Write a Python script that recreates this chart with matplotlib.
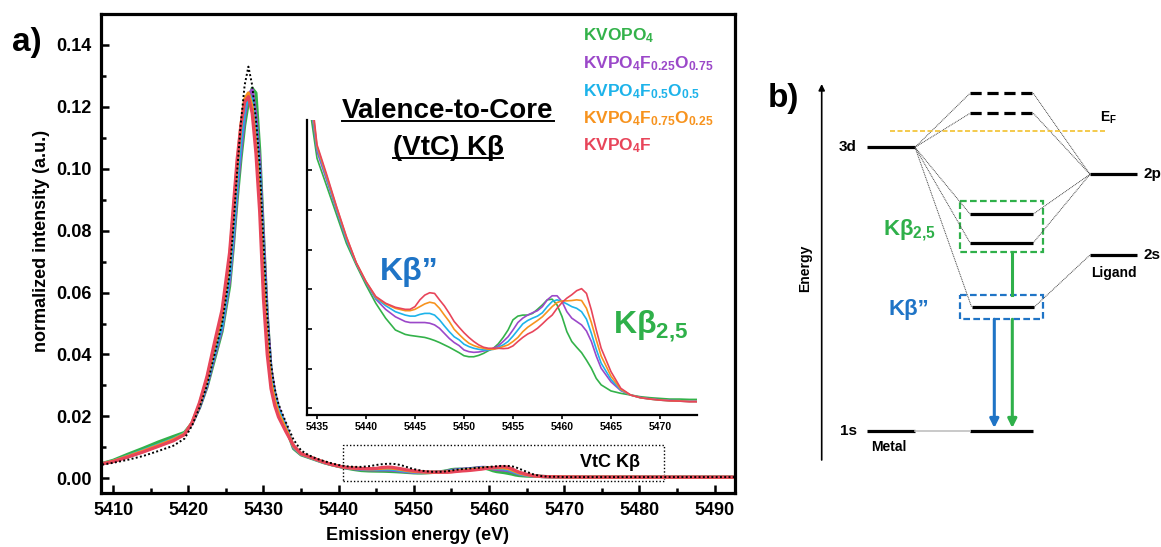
import matplotlib
matplotlib.use("Agg")
import matplotlib.pyplot as plt
import matplotlib.transforms as mtransforms
from matplotlib.lines import Line2D
from matplotlib.patches import Rectangle
from matplotlib.ticker import MultipleLocator

plt.rcParams['font.family'] = ['Liberation Sans', 'DejaVu Sans']
plt.rcParams['font.weight'] = 'bold'
plt.rcParams['mathtext.fontset'] = 'custom'
plt.rcParams['mathtext.rm'] = 'Liberation Sans:bold'
plt.rcParams['mathtext.it'] = 'Liberation Sans:bold'
plt.rcParams['mathtext.bf'] = 'Liberation Sans:bold'
plt.rcParams['mathtext.default'] = 'rm'

# ---------------- data ----------------
energy = [5408, 5410, 5412, 5414, 5416, 5418, 5419.5,
          5420.5, 5421.5, 5422.5, 5423.5, 5424.5, 5425.5, 5426, 5426.5, 5427, 5427.5,
          5428, 5428.5, 5429, 5429.5, 5430, 5430.5, 5431, 5431.5, 5432, 5433, 5434,
          5435, 5436, 5437, 5438, 5439, 5440, 5441, 5442, 5443,
          5444, 5444.5, 5445, 5445.5, 5446, 5446.5, 5447, 5447.5, 5448, 5448.5,
          5449, 5449.5, 5450, 5450.5, 5451, 5451.5, 5452, 5452.5, 5453, 5453.5,
          5454, 5454.5, 5455, 5455.5, 5456, 5456.5, 5457, 5457.5, 5458, 5458.5,
          5459, 5459.5, 5460, 5460.5, 5461, 5461.5, 5462, 5462.5, 5463, 5463.5, 5464,
          5465, 5466, 5467, 5468, 5469, 5470, 5471, 5472, 5473, 5474,
          5478, 5483, 5488, 5493]

kvopo4 = [0.0044, 0.0058, 0.0078, 0.0097, 0.0117, 0.0135, 0.0148,
          0.0178, 0.0228, 0.0295, 0.0385, 0.0475, 0.0620, 0.0750, 0.0900, 0.1030, 0.1140,
          0.1215, 0.1260, 0.1245, 0.1060, 0.0790, 0.0530, 0.0350, 0.0275, 0.0225, 0.0163, 0.0096,
          0.00758, 0.00675, 0.00591, 0.00507, 0.00443, 0.00384, 0.00330, 0.00286, 0.00251,
          0.00238, 0.00235, 0.00233, 0.00231, 0.00229, 0.00225, 0.00220, 0.00214, 0.00207, 0.00200,
          0.00192, 0.00184, 0.00175, 0.00172, 0.00172, 0.00176, 0.00182, 0.00190, 0.00197, 0.00210,
          0.00229, 0.00251, 0.00281, 0.00292, 0.00295, 0.00295, 0.00300, 0.00312, 0.00325, 0.00340,
          0.00342, 0.00325, 0.00291, 0.00246, 0.00217, 0.00200, 0.00184, 0.00162, 0.00138, 0.00108, 0.00089,
          0.00071, 0.00064, 0.00059, 0.00054, 0.00051, 0.00049, 0.00047, 0.00047, 0.00046, 0.00046,
          0.00045, 0.00044, 0.00043, 0.00042]

f025 = [0.0044, 0.0054, 0.0070, 0.0087, 0.0105, 0.0124, 0.0143,
        0.0176, 0.0230, 0.0300, 0.0395, 0.0485, 0.0640, 0.0770, 0.0930, 0.1060, 0.1170,
        0.1240, 0.1255, 0.1170, 0.1020, 0.0770, 0.0520, 0.0350, 0.0275, 0.0228, 0.0168, 0.0100,
        0.00778, 0.00692, 0.00604, 0.00517, 0.00448, 0.00391, 0.00342, 0.00312, 0.00290,
        0.00276, 0.00273, 0.00273, 0.00273, 0.00273, 0.00271, 0.00266, 0.00256, 0.00241, 0.00226,
        0.00214, 0.00205, 0.00192, 0.00187, 0.00185, 0.00186, 0.00189, 0.00192, 0.00197, 0.00204,
        0.00217, 0.00231, 0.00251, 0.00273, 0.00286, 0.00295, 0.00302, 0.00308, 0.00320, 0.00340,
        0.00352, 0.00352, 0.00335, 0.00305, 0.00286, 0.00276, 0.00266, 0.00248, 0.00217, 0.00174, 0.00138,
        0.00098, 0.00072, 0.00059, 0.00052, 0.00048, 0.00045, 0.00043, 0.00042, 0.00041, 0.00041,
        0.00040, 0.00039, 0.00038, 0.00037]

f050 = [0.0044, 0.0055, 0.0072, 0.0090, 0.0108, 0.0127, 0.0144,
        0.0178, 0.0235, 0.0308, 0.0405, 0.0495, 0.0660, 0.0800, 0.0960, 0.1090, 0.1190,
        0.1240, 0.1225, 0.1130, 0.0980, 0.0720, 0.0480, 0.0330, 0.0265, 0.0222, 0.0165, 0.0102,
        0.00788, 0.00699, 0.00608, 0.00519, 0.00448, 0.00392, 0.00345, 0.00323, 0.00305,
        0.00295, 0.00292, 0.00292, 0.00297, 0.00300, 0.00300, 0.00295, 0.00281, 0.00263, 0.00246,
        0.00231, 0.00222, 0.00209, 0.00202, 0.00197, 0.00194, 0.00192, 0.00192, 0.00194, 0.00200,
        0.00207, 0.00217, 0.00233, 0.00251, 0.00269, 0.00279, 0.00286, 0.00292, 0.00302, 0.00320,
        0.00335, 0.00340, 0.00335, 0.00328, 0.00320, 0.00315, 0.00305, 0.00283, 0.00241, 0.00194, 0.00153,
        0.00105, 0.00074, 0.00059, 0.00051, 0.00047, 0.00044, 0.00042, 0.00041, 0.00040, 0.00040,
        0.00039, 0.00038, 0.00037, 0.00036]

f075 = [0.0044, 0.0055, 0.0071, 0.0088, 0.0106, 0.0125, 0.0143,
        0.0179, 0.0240, 0.0322, 0.0428, 0.0528, 0.0710, 0.0860, 0.1010, 0.1140, 0.1225,
        0.1245, 0.1200, 0.1080, 0.0910, 0.0640, 0.0440, 0.0310, 0.0250, 0.0210, 0.0158, 0.0104,
        0.00793, 0.00704, 0.00613, 0.00525, 0.00450, 0.00394, 0.00348, 0.00328, 0.00315,
        0.00308, 0.00308, 0.00312, 0.00320, 0.00328, 0.00333, 0.00330, 0.00315, 0.00295, 0.00276,
        0.00253, 0.00238, 0.00224, 0.00212, 0.00205, 0.00200, 0.00197, 0.00194, 0.00194, 0.00197,
        0.00202, 0.00207, 0.00217, 0.00229, 0.00246, 0.00259, 0.00269, 0.00279, 0.00290, 0.00305,
        0.00320, 0.00332, 0.00337, 0.00337, 0.00338, 0.00340, 0.00338, 0.00315, 0.00273, 0.00222, 0.00174,
        0.00115, 0.00076, 0.00059, 0.00051, 0.00047, 0.00044, 0.00042, 0.00041, 0.00040, 0.00040,
        0.00039, 0.00038, 0.00037, 0.00036]

kvpo4f = [0.0044, 0.0054, 0.0069, 0.0085, 0.0103, 0.0121, 0.0141,
          0.0180, 0.0245, 0.0330, 0.0440, 0.0545, 0.0730, 0.0880, 0.1030, 0.1140, 0.1215,
          0.1233, 0.1180, 0.1050, 0.0860, 0.0580, 0.0400, 0.0290, 0.0235, 0.0198, 0.0150, 0.0106,
          0.00798, 0.00709, 0.00615, 0.00527, 0.00450, 0.00394, 0.00350, 0.00330, 0.00318,
          0.00312, 0.00312, 0.00320, 0.00340, 0.00354, 0.00361, 0.00359, 0.00340, 0.00322, 0.00300,
          0.00276, 0.00259, 0.00243, 0.00229, 0.00217, 0.00207, 0.00200, 0.00197, 0.00197, 0.00197,
          0.00196, 0.00197, 0.00204, 0.00217, 0.00229, 0.00239, 0.00246, 0.00256, 0.00269, 0.00283,
          0.00295, 0.00315, 0.00332, 0.00345, 0.00355, 0.00367, 0.00373, 0.00359, 0.00310, 0.00251, 0.00197,
          0.00128, 0.00079, 0.00059, 0.00051, 0.00047, 0.00044, 0.00042, 0.00041, 0.00039, 0.00039,
          0.00038, 0.00037, 0.00036, 0.00035]

reference = [0.0042, 0.0050, 0.0060, 0.0072, 0.0088, 0.0105, 0.0128,
             0.0170, 0.0228, 0.0300, 0.0400, 0.0500, 0.0660, 0.0810, 0.0990, 0.1150, 0.1270,
             0.1330, 0.1270, 0.1160, 0.1010, 0.0770, 0.0530, 0.0370, 0.0290, 0.0240, 0.0180, 0.0125,
             0.0090, 0.0075, 0.0064, 0.0056, 0.0049, 0.0043, 0.0039, 0.0037, 0.0037,
             0.0039, 0.0041, 0.0043, 0.0045, 0.0046, 0.0047, 0.0047, 0.0046, 0.0044, 0.0041,
             0.0037, 0.0033, 0.0030, 0.0027, 0.0025, 0.0023, 0.0022, 0.0021, 0.0021, 0.0021,
             0.0022, 0.0023, 0.0025, 0.0027, 0.0029, 0.0030, 0.0031, 0.0032, 0.0033, 0.0034,
             0.0035, 0.0036, 0.0037, 0.0038, 0.0039, 0.0040, 0.0040, 0.0040, 0.0039, 0.0036, 0.0031,
             0.0021, 0.0012, 0.0007, 0.0005, 0.0005, 0.0004, 0.0004, 0.0004, 0.0004, 0.0004,
             0.0004, 0.0004, 0.0004, 0.0004]

series = [kvopo4, f025, f050, f075, kvpo4f]
labels = [r'KVOPO$_4$', r'KVPO$_4$F$_{0.25}$O$_{0.75}$', r'KVPO$_4$F$_{0.5}$O$_{0.5}$',
          r'KVPO$_4$F$_{0.75}$O$_{0.25}$', r'KVPO$_4$F']
colors = ['#33b24a', '#9b48c9', '#1db3ea', '#f7931e', '#e8455a']
KB2_COLOR = '#2fb04a'
KBPP_COLOR = '#1f74c6'

xticks_main = [5410, 5420, 5430, 5440, 5450, 5460, 5470, 5480, 5490]
yticks_main = [0.00, 0.02, 0.04, 0.06, 0.08, 0.10, 0.12, 0.14]
xticks_inset = [5435, 5440, 5445, 5450, 5455, 5460, 5465, 5470]

# ---------------- figure ----------------
W, H = 1161, 547
fig = plt.figure(figsize=(W / 100, H / 100), dpi=100)
pix = mtransforms.Affine2D().scale(1.0 / W, -1.0 / H).translate(0, 1) + fig.transFigure

# main axes
ax = fig.add_axes([101 / W, 1 - 492.7 / H, 634 / W, 478.7 / H])
for s, c in zip(series, colors):
    ax.plot(energy, s, color=c, lw=2.3, solid_joinstyle='round')
ax.plot(energy, reference, color='black', lw=1.4, ls=(0, (1, 1.2)))
ax.set_xlim(5408.4, 5492.7)
ax.set_ylim(-0.00465, 0.150)
ax.set_xticks(xticks_main)
ax.set_yticks(yticks_main)
ax.set_yticklabels([f'{v:.2f}' for v in yticks_main])
ax.xaxis.set_minor_locator(MultipleLocator(5))
ax.yaxis.set_minor_locator(MultipleLocator(0.01))
ax.tick_params(which='both', direction='in', width=1.8, top=False, right=False,
               labelsize=13, pad=7)
ax.tick_params(which='major', length=6)
ax.tick_params(which='minor', length=3.5)
for sp in ax.spines.values():
    sp.set_linewidth(2.3)
for lab in ax.get_xticklabels() + ax.get_yticklabels():
    lab.set_fontweight('bold')

vtc_box = (5440.6, -0.0008, 42.7, 0.0116)
ax.add_patch(Rectangle(vtc_box[:2], vtc_box[2], vtc_box[3], fill=False, ec='black',
                       lw=1.0, ls=(0, (1, 1.5))))

fig.text(580, 466.7, 'VtC Kβ', transform=pix, fontsize=13, fontweight='bold',
         ha='left', va='baseline')
fig.text(42, 241, 'normalized intensity (a.u.)', transform=pix, fontsize=13,
         fontweight='bold', rotation=90, ha='center', va='center')
fig.text(418, 540, 'Emission energy (eV)', transform=pix, fontsize=13,
         fontweight='bold', ha='center', va='baseline')
fig.text(27, 42, 'a)', transform=pix, fontsize=24, fontweight='bold', ha='center', va='center')

# legend (coloured text)
legend_baselines = [40, 68.3, 96.7, 123.3, 150]
for lab, c, yb in zip(labels, colors, legend_baselines):
    fig.text(583, yb, lab, transform=pix, color=c, fontsize=12.5, fontweight='bold',
             ha='left', va='baseline')

# inset
axi = fig.add_axes([307 / W, 1 - 415 / H, 390 / W, 295 / H], zorder=2)
axi.patch.set_alpha(0)
for s, c in zip(series, colors):
    axi.plot(energy, s, color=c, lw=1.2)
axi.set_xlim(5433.98, 5473.78)
axi.set_ylim(0.0, 0.00871)
axi.set_xticks(xticks_inset)
axi.set_yticks([0.0002 + 0.00117 * i for i in range(7)])
axi.set_yticklabels([])
axi.spines['top'].set_visible(False)
axi.spines['right'].set_visible(False)
axi.spines['left'].set_linewidth(1.6)
axi.spines['bottom'].set_linewidth(1.6)
axi.tick_params(axis='y', direction='in', length=3.5, width=1.2)
axi.tick_params(axis='x', direction='out', length=3, width=1.2, labelsize=7.5, pad=2)
for lab in axi.get_xticklabels():
    lab.set_fontweight('bold')

title_lines = []
title_lines.append(fig.text(448, 118.3, 'Valence-to-Core', transform=pix, fontsize=20,
                            fontweight='bold', ha='center', va='baseline', zorder=5))
title_lines.append(fig.text(448, 155, '(VtC) Kβ', transform=pix, fontsize=20,
                            fontweight='bold', ha='center', va='baseline', zorder=5))
fig.text(380, 280, 'Kβ”', transform=pix, fontsize=23, fontweight='bold', color=KBPP_COLOR,
         ha='left', va='baseline', zorder=5)
fig.text(613, 333, r'Kβ$_{2{,}5}$', transform=pix, fontsize=23, fontweight='bold',
         color=KB2_COLOR, ha='left', va='baseline', zorder=5)

# ---------------- panel b: schematic MO diagram ----------------
axb = fig.add_axes([760 / W, 0, 401 / W, 1], zorder=1)
axb.set_xlim(760, 1161)
axb.set_ylim(547, 0)
axb.axis('off')

LW = 2.3
# (x0, x1, y)
metal_levels = {'3d': (866.7, 915, 147.3), '1s': (866.7, 915, 430.7)}
ligand_levels = {'2p': (1090, 1136.7, 174.3), '2s': (1090, 1136.7, 255)}
mo_antibonding = [(970, 1033.3, 93.3), (970, 1033.3, 113.3)]
mo_bonding = [(970, 1033.3, 214), (970, 1033.3, 242.7), (971.7, 1034, 307.3)]
mo_core = (970, 1033.3, 430.7)

for k, (x0, x1, y) in metal_levels.items():
    axb.plot([x0, x1], [y, y], color='black', lw=LW, solid_capstyle='butt')
    axb.text(857, y, k, fontsize=11, fontweight='bold', ha='right', va='center')
for k, (x0, x1, y) in ligand_levels.items():
    axb.plot([x0, x1], [y, y], color='black', lw=LW, solid_capstyle='butt')
    axb.text(1143, y, k, fontsize=11, fontweight='bold', ha='left', va='center', clip_on=False)
for (x0, x1, y) in mo_antibonding:
    axb.plot([x0, x1], [y, y], color='black', lw=LW, ls=(0, (3.5, 1.8)))
for (x0, x1, y) in mo_bonding + [mo_core]:
    axb.plot([x0, x1], [y, y], color='black', lw=LW, solid_capstyle='butt')

# connecting lines
conn_kw = dict(color='#444444', lw=0.7, ls=(0, (1, 0.8)))
d3 = metal_levels['3d']
p2 = ligand_levels['2p']
s2 = ligand_levels['2s']
for (x0, x1, y) in mo_antibonding + mo_bonding:
    axb.plot([d3[1], x0], [d3[2], y], **conn_kw)
for (x0, x1, y) in mo_antibonding + mo_bonding[:2]:
    axb.plot([x1, p2[0]], [y, p2[2]], **conn_kw)
axb.plot([mo_bonding[2][1], s2[0]], [mo_bonding[2][2], s2[2]], **conn_kw)
axb.plot([915, 970], [430.7, 430.7], color='#c0c0c0', lw=1.2)

# Fermi level
axb.plot([890, 1106.7], [130.7, 130.7], color='#f2c12e', lw=1.2, ls=(0, (3, 1.5)))
axb.text(1100, 118, r'E$_F$', fontsize=10, fontweight='bold', ha='left', va='center')

# boxes
axb.add_patch(Rectangle((960, 201), 82.7, 51.3, fill=False, ec=KB2_COLOR, lw=1.6,
                        ls=(0, (3, 1.5))))
axb.add_patch(Rectangle((960, 295), 83.3, 24.3, fill=False, ec=KBPP_COLOR, lw=1.6,
                        ls=(0, (3, 1.5))))
axb.plot([1012.3, 1012.3], [252.3, 295], color=KB2_COLOR, lw=2.2)

arrow_kw = dict(arrowstyle='-|>', lw=2.2, mutation_scale=13, shrinkA=0, shrinkB=0)
axb.annotate('', xy=(1012.3, 428), xytext=(1012.3, 319.3),
             arrowprops=dict(color=KB2_COLOR, **arrow_kw))
axb.annotate('', xy=(994.3, 428), xytext=(994.3, 319.3),
             arrowprops=dict(color=KBPP_COLOR, **arrow_kw))
axb.annotate('', xy=(821.7, 84), xytext=(821.7, 460),
             arrowprops=dict(arrowstyle='-|>', color='black', lw=1.2, mutation_scale=9,
                             shrinkA=0, shrinkB=0))

axb.text(805, 268, 'Energy', fontsize=10, fontweight='bold', rotation=90,
         ha='center', va='center')
axb.text(889, 447, 'Metal', fontsize=10, fontweight='bold', ha='center', va='center')
axb.text(1114, 273.3, 'Ligand', fontsize=10, fontweight='bold', ha='center', va='center')
axb.text(883, 235, r'Kβ$_{2{,}5}$', fontsize=16, fontweight='bold', color=KB2_COLOR,
         ha='left', va='baseline')
axb.text(888, 315, 'Kβ”', fontsize=16, fontweight='bold', color=KBPP_COLOR,
         ha='left', va='baseline')
axb.text(783, 99, 'b)', fontsize=24, fontweight='bold', ha='center', va='center')

# underline the VtC title
fig.canvas.draw()
renderer = fig.canvas.get_renderer()
for t in title_lines:
    bb = t.get_window_extent(renderer)
    _, yb = t.get_position()
    fig.add_artist(Line2D([bb.x0, bb.x1], [yb + 3, yb + 3], transform=pix, color='black',
                          lw=1.4, zorder=5))

fig.savefig('out.png', dpi=100)
